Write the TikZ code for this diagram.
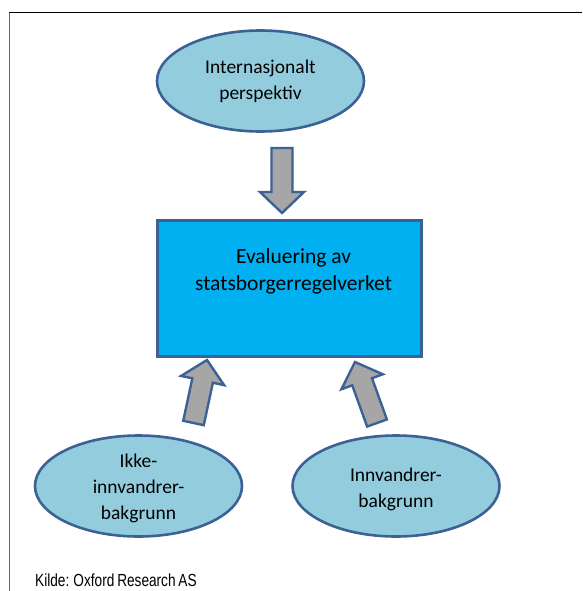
\documentclass[tikz,border=0pt]{standalone}
\usepackage{fontspec}
\setmainfont{Carlito}
\newfontfamily\kildefont[FakeStretch=0.78,WordSpace=0.75]{Liberation Sans}
\usetikzlibrary{shapes.geometric,calc}
\definecolor{ellfill}{HTML}{93CDDD}
\definecolor{shapeedge}{HTML}{3B6195}
\definecolor{boxfill}{HTML}{00B0F0}
\definecolor{arrfill}{HTML}{A6A6A6}
\tikzset{
  oval/.style={ellipse, draw=shapeedge, fill=ellfill, line width=2.6pt,
    minimum width=207pt, minimum height=101pt, inner sep=0pt},
  ovaltext/.style={align=center, font=\fontsize{19.5}{26}\selectfont, text=black},
  evalbox/.style={draw=shapeedge, fill=boxfill, line width=2.8pt,
    minimum width=264pt, minimum height=136pt, inner sep=0pt},
  boxtext/.style={align=center, font=\fontsize{21.5}{27}\selectfont, text=black},
  blockarrow/.style={draw=shapeedge, fill=arrfill, line width=2.4pt, line join=miter},
}
\newcommand\blockarr[2]{%
  \coordinate (ba-h) at ($(#2)!21pt!(#1)$);
  \draw[blockarrow] ($(#1)!10.5pt!90:(#2)$) -- ($(ba-h)!10.5pt!90:(#2)$)
    -- ($(ba-h)!22pt!90:(#2)$) -- (#2) -- ($(ba-h)!22pt!-90:(#2)$)
    -- ($(ba-h)!10.5pt!-90:(#2)$) -- ($(#1)!10.5pt!-90:(#2)$) -- cycle;
}
\begin{document}
\begin{tikzpicture}[x=1pt,y=-1pt]
\useasboundingbox (0,0) rectangle (582,591);
% frame
\draw[black, line width=1.6pt] (8.5,12.6) -- (582,12.6);
\draw[black!60, line width=1.5pt] (9.3,12.6) -- (9.3,591);
% nodes
\node[oval] (intl) at (260.5,81) {};
\node[ovaltext] (intltext) at (intl.center) {Internasjonalt\\perspektiv};
\node[evalbox] (eval) at (289.5,288.5) {};
\node[boxtext] (evaltext) at ([xshift=4pt,yshift=17.5pt]eval.center) {Evaluering av\\statsborgerregelverket};
\node[oval] (ikke) at (138.5,486) {};
\node[ovaltext] (ikketext) at ([yshift=-2pt]ikke.center) {Ikke-\\innvandrer-\\bakgrunn};
\node[oval] (innv) at (396,486) {};
\node[ovaltext] (innvtext) at ([yshift=-3pt]innv.center) {Innvandrer-\\bakgrunn};
% arrow end points
\coordinate (a1s) at (282,148);
\coordinate (a1e) at (282,213);
\coordinate (a2s) at (193.5,423);
\coordinate (a2e) at (207,360);
\coordinate (a3s) at (377,423);
\coordinate (a3e) at (355,362);
\blockarr{a1s}{a1e}
\blockarr{a2s}{a2e}
\blockarr{a3s}{a3e}
% source
\node[anchor=base west, inner sep=0pt, font=\kildefont\fontsize{17.5}{20}\selectfont] (kilde) at (35,586.5) {Kilde: Oxford Research AS};
\end{tikzpicture}
\end{document}
